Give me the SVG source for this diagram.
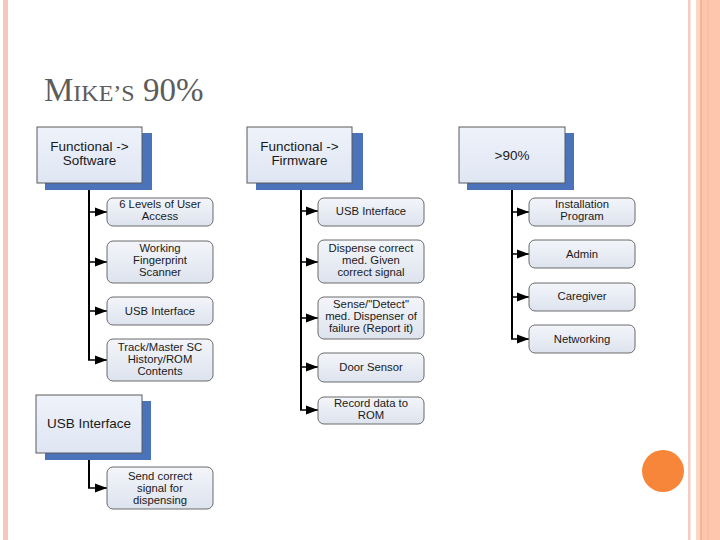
<svg xmlns="http://www.w3.org/2000/svg" width="720" height="540" viewBox="0 0 720 540">
<defs>
<linearGradient id="gTop" x1="0" y1="0" x2="0" y2="1"><stop offset="0" stop-color="#eef2fa"/><stop offset="1" stop-color="#dfe6f3"/></linearGradient>
<linearGradient id="gChild" x1="0" y1="0" x2="0" y2="1"><stop offset="0" stop-color="#f3f5fa"/><stop offset="1" stop-color="#dde3ee"/></linearGradient>
<marker id="ah" markerUnits="userSpaceOnUse" markerWidth="13" markerHeight="10" refX="12" refY="5" orient="auto"><path d="M0,0.5 L12,5 L0,9.5 z" fill="#000"/></marker>
<style>
.shadow{fill:#4a73ba}
.top{fill:url(#gTop);stroke:#5a5a5a;stroke-width:1}
.child{fill:url(#gChild);stroke:#6a6a6a;stroke-width:1}
.tt{font-family:"Liberation Sans",Arial,sans-serif;font-size:13.5px;fill:#1a1a1a;text-anchor:middle}
.ct{font-family:"Liberation Sans",Arial,sans-serif;font-size:11.3px;fill:#1a1a1a;text-anchor:middle}
.vl{stroke:#000;stroke-width:2;fill:none}
.ar{stroke:#000;stroke-width:1.5;fill:none;marker-end:url(#ah)}
</style>
</defs>
<rect width="720" height="540" fill="#ffffff"/>
<rect x="3" y="0" width="5" height="540" fill="#f8c6bc"/>
<rect x="688" y="0" width="2.5" height="540" fill="#f6cbc3"/>
<rect x="696" y="0" width="24" height="540" fill="#fdc6ad"/>
<rect x="696" y="0" width="4" height="540" fill="#fcd6c6"/>
<rect x="700" y="0" width="2" height="540" fill="#f6b592"/>
<rect x="707" y="0" width="1.5" height="540" fill="#f9bea2"/>
<circle cx="663" cy="471" r="21" fill="#f7853a"/>
<text x="44" y="101" font-family="'Liberation Serif','Times New Roman',serif" fill="#5c5c5c" font-size="33">M<tspan font-size="24">IKE’S</tspan> 90%</text>

<g id="connectors">
<path class="vl" d="M89,183 V360"/>
<path class="ar" d="M89,212 H107"/>
<path class="ar" d="M89,262 H107"/>
<path class="ar" d="M89,311 H107"/>
<path class="ar" d="M88,360 H107"/>
<path class="vl" d="M301,183 V410"/>
<path class="ar" d="M301,211 H318"/>
<path class="ar" d="M301,262 H318"/>
<path class="ar" d="M301,318 H318"/>
<path class="ar" d="M301,367 H318"/>
<path class="ar" d="M300,410 H318"/>
<path class="vl" d="M512,183 V339"/>
<path class="ar" d="M512,212 H529"/>
<path class="ar" d="M512,254 H529"/>
<path class="ar" d="M512,297 H529"/>
<path class="ar" d="M511,339 H529"/>
<path class="vl" d="M89,453 V488"/>
<path class="ar" d="M88,488 H107"/>
</g>

<g id="n-software">
<rect class="shadow" x="45" y="133" width="107" height="57"/>
<rect class="top" x="37" y="127" width="105" height="56"/>
<text class="tt" x="89.5" y="151">Functional -&gt;</text>
<text class="tt" x="89.5" y="165">Software</text>
</g>
<g id="n-sw1"><rect class="child" x="107" y="198" width="106" height="28" rx="6"/><text class="ct" x="160" y="208">6 Levels of User</text><text class="ct" x="160" y="220">Access</text></g>
<g id="n-sw2"><rect class="child" x="107" y="241" width="106" height="42" rx="6"/><text class="ct" x="160" y="252">Working</text><text class="ct" x="160" y="264">Fingerprint</text><text class="ct" x="160" y="276">Scanner</text></g>
<g id="n-sw3"><rect class="child" x="107" y="297" width="106" height="28" rx="6"/><text class="ct" x="160" y="315">USB Interface</text></g>
<g id="n-sw4"><rect class="child" x="107" y="339" width="106" height="42" rx="6"/><text class="ct" x="160" y="351">Track/Master SC</text><text class="ct" x="160" y="363">History/ROM</text><text class="ct" x="160" y="375">Contents</text></g>

<g id="n-firmware">
<rect class="shadow" x="256" y="133" width="107" height="57"/>
<rect class="top" x="247" y="127" width="105" height="56"/>
<text class="tt" x="299.5" y="151">Functional -&gt;</text>
<text class="tt" x="299.5" y="165">Firmware</text>
</g>
<g id="n-fw1"><rect class="child" x="318" y="198" width="106" height="28" rx="6"/><text class="ct" x="371" y="215">USB Interface</text></g>
<g id="n-fw2"><rect class="child" x="318" y="240" width="106" height="43" rx="6"/><text class="ct" x="371" y="252">Dispense correct</text><text class="ct" x="371" y="264">med. Given</text><text class="ct" x="371" y="276">correct signal</text></g>
<g id="n-fw3"><rect class="child" x="318" y="297" width="106" height="42" rx="6"/><text class="ct" x="371" y="308">Sense/"Detect"</text><text class="ct" x="371" y="320">med. Dispenser of</text><text class="ct" x="371" y="332">failure (Report it)</text></g>
<g id="n-fw4"><rect class="child" x="318" y="353" width="106" height="29" rx="6"/><text class="ct" x="371" y="371">Door Sensor</text></g>
<g id="n-fw5"><rect class="child" x="318" y="397" width="106" height="27" rx="6"/><text class="ct" x="371" y="407">Record data to</text><text class="ct" x="371" y="419">ROM</text></g>

<g id="n-90">
<rect class="shadow" x="467" y="133" width="107" height="57"/>
<rect class="top" x="459" y="127" width="106" height="56"/>
<text class="tt" x="512" y="160">&gt;90%</text>
</g>
<g id="n-p1"><rect class="child" x="529" y="198" width="106" height="28" rx="6"/><text class="ct" x="582" y="208">Installation</text><text class="ct" x="582" y="220">Program</text></g>
<g id="n-p2"><rect class="child" x="529" y="240" width="106" height="28" rx="6"/><text class="ct" x="582" y="258">Admin</text></g>
<g id="n-p3"><rect class="child" x="529" y="283" width="106" height="28" rx="6"/><text class="ct" x="582" y="300">Caregiver</text></g>
<g id="n-p4"><rect class="child" x="529" y="325" width="106" height="28" rx="6"/><text class="ct" x="582" y="343">Networking</text></g>

<g id="n-usb">
<rect class="shadow" x="45" y="401" width="106" height="59"/>
<rect class="top" x="36" y="395" width="106" height="58"/>
<text class="tt" x="89" y="428">USB Interface</text>
</g>
<g id="n-usb1"><rect class="child" x="107" y="467" width="106" height="42" rx="6"/><text class="ct" x="160" y="480">Send correct</text><text class="ct" x="160" y="492">signal for</text><text class="ct" x="160" y="504">dispensing</text></g>
</svg>
